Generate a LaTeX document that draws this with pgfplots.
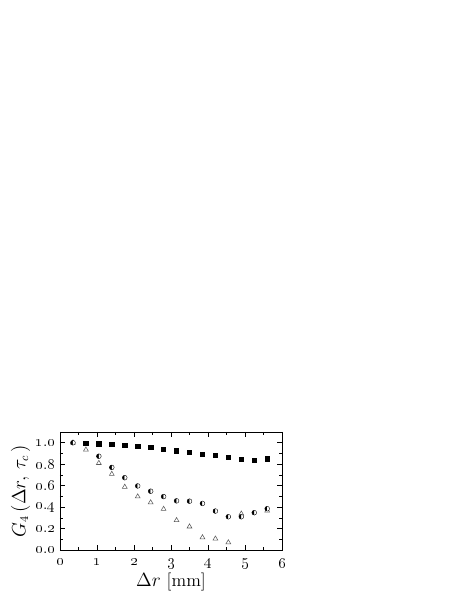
\documentclass[border=0pt]{standalone}
\usepackage{pgfplots}
\pgfplotsset{compat=1.18}
\usetikzlibrary{plotmarks}
\newcommand{\os}[1]{\oldstylenums{#1}}
\begin{document}
\begin{tikzpicture}
\useasboundingbox (-45pt,-30.75pt) rectangle (297.75pt,412.5pt);
\begin{axis}[
  at={(0pt,0pt)}, anchor=south west,
  scale only axis, width=166.5pt, height=88.5pt,
  xmin=0, xmax=6, ymin=0, ymax=1.1,
  xtick={0,1,2,3,4,5,6},
  xticklabels={\os{0},\os{1},\os{2},\os{3},\os{4},\os{5},\os{6}},
  ytick={0,0.2,0.4,0.6,0.8,1.0},
  yticklabels={\os{0}.\os{0},\os{0}.\os{2},\os{0}.\os{4},\os{0}.\os{6},\os{0}.\os{8},\os{1}.\os{0}},
  tick label style={font=\fontsize{12}{14}\selectfont},
  xticklabel style={yshift=-3pt},
  minor x tick num=1, minor y tick num=1,
  tick align=inside, ticks=both,
  xtick pos=both, ytick pos=both,
  major tick length=4pt, minor tick length=2pt,
  tick style={black, line width=0.4pt},
  axis line style={line width=0.5pt},
  xlabel={$\Delta r$ [mm]},
  ylabel={$G_4\,(\Delta r,\,\tau_c\,)$},
  label style={font=\fontsize{13.5}{15}\selectfont},
  xlabel style={yshift=4pt},
  ylabel style={yshift=-3pt},
]
\addplot[only marks, mark=square*, mark size=1.6pt, black] coordinates {
(0.70,0.994) (1.05,0.990) (1.40,0.985) (1.75,0.978) (2.10,0.966) (2.45,0.960)
(2.80,0.940) (3.15,0.926) (3.50,0.908) (3.85,0.892) (4.20,0.880) (4.55,0.862)
(4.90,0.846) (5.25,0.834) (5.60,0.850)};
\addplot[only marks, mark=triangle, mark size=2.1pt, black!65, mark options={line width=0.4pt}] coordinates {
(0.35,1.000) (0.70,0.935) (1.05,0.810) (1.40,0.708) (1.75,0.588) (2.10,0.498)
(2.45,0.443) (2.80,0.382) (3.15,0.277) (3.50,0.218) (3.85,0.117) (4.20,0.105)
(4.55,0.070) (4.90,0.338) (5.60,0.366)};
\addplot[only marks, mark=halfcircle*, mark size=1.8pt, black, mark options={rotate=90, fill=black, draw=black, line width=0.3pt}] coordinates {
(0.35,1.000) (1.05,0.874) (1.40,0.770) (1.75,0.674) (2.10,0.597) (2.45,0.548)
(2.80,0.498) (3.15,0.458) (3.50,0.455) (3.85,0.434) (4.20,0.363) (4.55,0.310)
(4.90,0.310) (5.25,0.348) (5.60,0.385)};
\end{axis}
\end{tikzpicture}
\end{document}
